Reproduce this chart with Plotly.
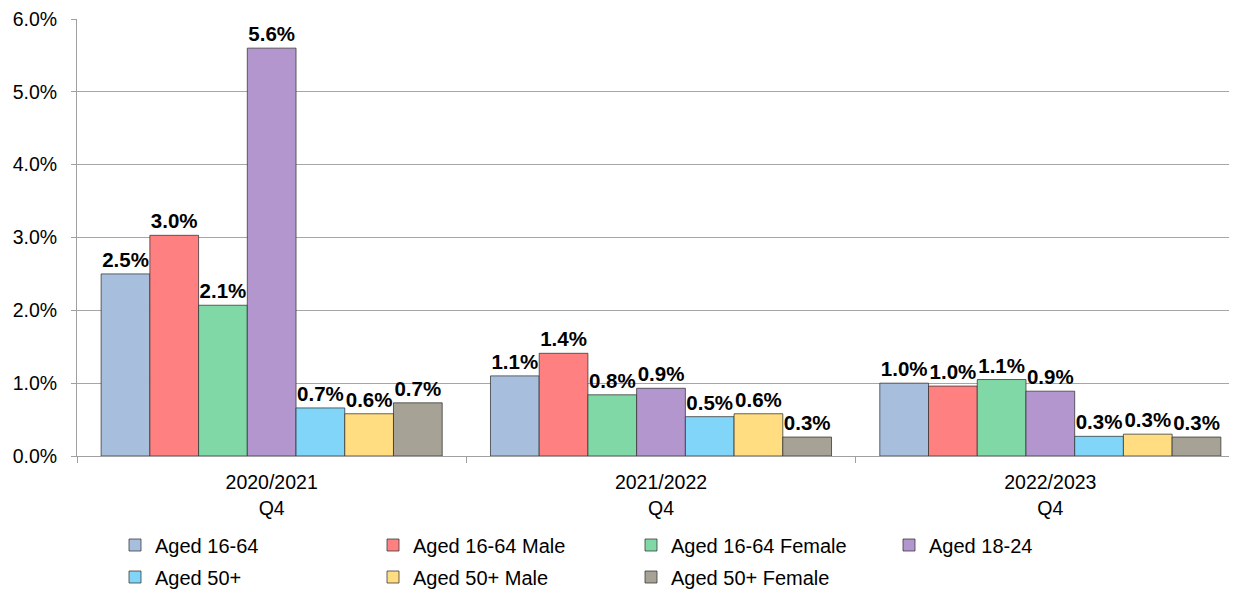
import plotly.graph_objects as go

categories = ["2020/2021<br>Q4", "2021/2022<br>Q4", "2022/2023<br>Q4"]
series_names = ["Aged 16-64", "Aged 16-64 Male", "Aged 16-64 Female", "Aged 18-24",
                "Aged 50+", "Aged 50+ Male", "Aged 50+ Female"]
aged_16_64 = [2.50, 1.10, 1.00]
aged_16_64_male = [3.03, 1.41, 0.96]
aged_16_64_female = [2.07, 0.84, 1.05]
aged_18_24 = [5.60, 0.93, 0.89]
aged_50 = [0.66, 0.54, 0.27]
aged_50_male = [0.58, 0.58, 0.30]
aged_50_female = [0.73, 0.26, 0.26]
series_values = [aged_16_64, aged_16_64_male, aged_16_64_female, aged_18_24,
                 aged_50, aged_50_male, aged_50_female]
y_ticks = [0, 1, 2, 3, 4, 5, 6]
y_tick_labels = ["0.0%", "1.0%", "2.0%", "3.0%", "4.0%", "5.0%", "6.0%"]

colors = ["#a7bfdd", "#ff8080", "#80d8a6", "#b496cf", "#80d5f8", "#ffdd80", "#a6a396"]

FONT = "Arial, Liberation Sans, sans-serif"
TICK_SIZE = 19.5

fig = go.Figure()
for i, (name, vals) in enumerate(zip(series_names, series_values)):
    fig.add_trace(go.Bar(
        name=name, x=categories, y=vals,
        marker=dict(color=colors[i], line=dict(color="rgba(50,50,50,0.75)", width=1)),
        text=[f"{v:.1f}%" for v in vals],
        textposition="outside",
        constraintext="none",
        cliponaxis=False,
        textfont=dict(family=FONT, size=20.5, color="black", weight="bold"),
        legend="legend" if i < 4 else "legend2",
    ))

# the page body adds an 8px offset; figure coordinates below compensate for it
legend_common = dict(orientation="h", xref="container", yref="container",
                     xanchor="left", yanchor="middle",
                     entrywidth=213, entrywidthmode="pixels",
                     font=dict(family=FONT, size=20, color="black"),
                     itemwidth=30, bgcolor="rgba(0,0,0,0)")

fig.update_layout(
    width=1237, height=593,
    barmode="group", bargap=0.124, bargroupgap=0,
    margin=dict(l=69, r=0, t=11, b=145, autoexpand=False),
    paper_bgcolor="white", plot_bgcolor="white",
    font=dict(family=FONT, size=TICK_SIZE, color="black"),
    legend=dict(x=0.0865, y=1 - 537 / 593, **legend_common),
    legend2=dict(x=0.0865, y=1 - 569 / 593, **legend_common),
    showlegend=True,
)
fig.update_xaxes(
    automargin=False,
    showline=True, linecolor="#a0a0a0", linewidth=1,
    ticks="outside", tickson="boundaries", ticklen=6, tickcolor="#a0a0a0",
    ticklabelstandoff=9,
    tickfont=dict(family=FONT, size=TICK_SIZE, color="black"),
    showgrid=False,
)
fig.update_yaxes(
    automargin=False,
    range=[0, 6], tickvals=y_ticks, ticktext=y_tick_labels,
    ticklabeloverflow="allow",
    showline=True, linecolor="#a0a0a0", linewidth=1,
    ticks="outside", ticklen=5, tickcolor="#a0a0a0",
    ticklabelstandoff=10,
    showgrid=True, gridcolor="#a6a6a6", gridwidth=1,
    zeroline=False,
    tickfont=dict(family=FONT, size=TICK_SIZE, color="black"),
)

fig.write_html("out.html")
